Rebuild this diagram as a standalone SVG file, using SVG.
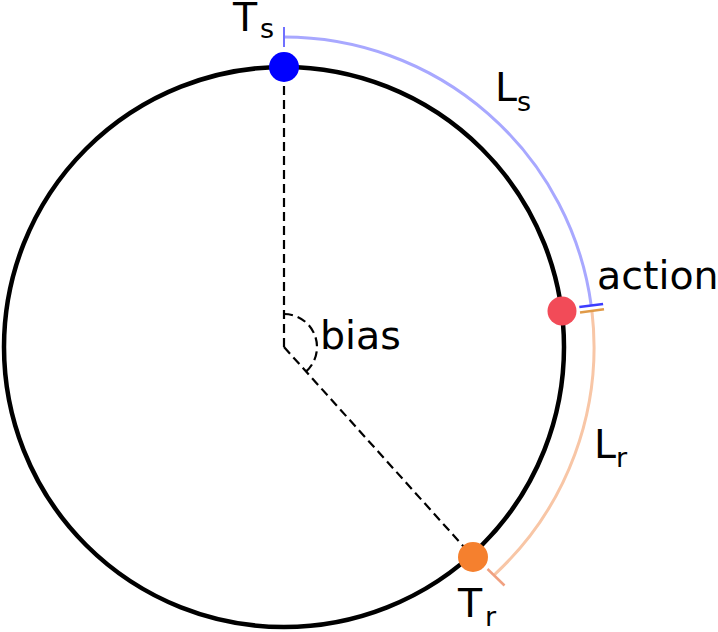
<svg xmlns="http://www.w3.org/2000/svg" width="718" height="632" viewBox="0 0 718 632">
<style>
  .lbl { font-family: "DejaVu Sans", sans-serif; font-size: 39.5px; fill: #000; }
  .sub { font-family: "DejaVu Sans", sans-serif; font-size: 27px; fill: #000; }
  .dash { fill: none; stroke: #000; stroke-width: 2.2; stroke-dasharray: 9 5; }
</style>
<rect width="718" height="632" fill="#ffffff"/>
<g id="circle">
  <circle cx="284" cy="347" r="280" fill="none" stroke="#000" stroke-width="4.5"/>
</g>
<g id="connectors">
  <line class="dash" x1="284" y1="347" x2="284" y2="67"/>
  <line class="dash" x1="284" y1="347" x2="473" y2="557"/>
  <path class="dash" d="M284,314 A33,33 0 0 1 306.1,371.5"/>
  <path id="Ls-arc" d="M284,37 A310,310 0 0 1 591.2,305.5" fill="none" stroke="#a8a8ff" stroke-width="3"/>
  <line x1="284" y1="27" x2="284" y2="47" stroke="#7070ff" stroke-width="2"/>
  <line x1="579.3" y1="307.1" x2="603.1" y2="303.9" stroke="#3c3cff" stroke-width="2.5"/>
  <path id="Lr-arc" d="M591.9,310.8 A310,310 0 0 1 494.3,574.8" fill="none" stroke="#f8c6a6" stroke-width="3"/>
  <line x1="580" y1="312.4" x2="604" y2="309.2" stroke="#e09a48" stroke-width="2.5"/>
  <line x1="487.5" y1="569" x2="504.5" y2="585.5" stroke="#f0a080" stroke-width="2.5"/>
</g>
<g id="Ts">
  <circle cx="284" cy="67" r="15" fill="#0000ff"/>
  <text class="lbl" x="233" y="31">T</text>
  <text class="sub" x="260" y="38">s</text>
</g>
<g id="action">
  <circle cx="562" cy="311" r="14.5" fill="#f24b58"/>
  <text class="lbl" x="597" y="289">action</text>
</g>
<g id="Tr">
  <circle cx="473" cy="557" r="15" fill="#f5802e"/>
  <text class="lbl" x="458" y="617">T</text>
  <text class="sub" x="485" y="626">r</text>
</g>
<g id="Ls">
  <text class="lbl" x="495" y="101">L</text>
  <text class="sub" x="517" y="111">s</text>
</g>
<g id="Lr">
  <text class="lbl" x="594" y="458">L</text>
  <text class="sub" x="616" y="467">r</text>
</g>
<g id="bias">
  <text class="lbl" x="320" y="349">bias</text>
</g>
</svg>
